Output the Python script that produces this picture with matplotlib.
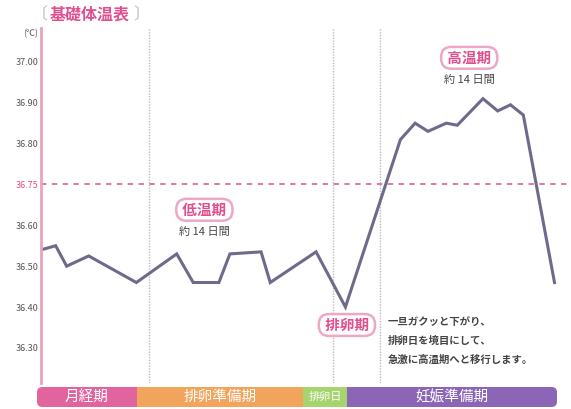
import matplotlib
matplotlib.use("Agg")
import matplotlib.pyplot as plt
from matplotlib.patches import FancyBboxPatch
import numpy as np

plt.rcParams['font.family'] = ['Noto Sans CJK JP', 'DejaVu Sans']

# ---- data ----
days = [0, 0.8, 1.4, 2.6, 5.2, 7.4, 8.3, 9.7, 10.3, 12.0, 12.5, 15.0, 16.6,
        19.6, 20.4, 21.1, 22.1, 22.7, 24.1, 24.9, 25.6, 26.3, 28.0]
temps = [36.54, 36.55, 36.50, 36.525, 36.46, 36.53, 36.46, 36.46, 36.53, 36.535,
         36.46, 36.535, 36.40, 36.81, 36.85, 36.83, 36.85, 36.845, 36.91, 36.88,
         36.895, 36.87, 36.46]
ytick_vals = [37.0, 36.9, 36.8, 36.7, 36.6, 36.5, 36.4, 36.3]
ytick_labels = ["37.00", "36.90", "36.80", "36.75", "36.60", "36.50", "36.40", "36.30"]
threshold = 36.7
phase_bounds = [5.9, 15.9, 18.5]
phases = ["月経期", "排卵準備期", "排卵日", "妊娠準備期"]
phase_lengths = [5.47, 9.08, 2.41, 11.48]
phase_colors = ["#E2649E", "#F0A45C", "#A6D46E", "#8C66B6"]

W, H = 571, 409
fig = plt.figure(figsize=(W / 100, H / 100), dpi=100)

def fx(px):
    return px / W

def fy(py):
    return 1 - py / H

ax = fig.add_axes([fx(41), fy(383), fx(571) - fx(41), fy(28) - fy(383)])
ax.set_xlim(0, 28.9)
ax.set_ylim(36.214, 37.083)
for s in ["top", "right", "bottom"]:
    ax.spines[s].set_visible(False)
ax.spines["left"].set_color("#E8A3BE")
ax.spines["left"].set_linewidth(2)
ax.set_xticks([])
ax.set_yticks(ytick_vals)
ax.set_yticklabels(ytick_labels, fontsize=6.5, color="#555555")
ax.get_yticklabels()[3].set_color("#D9508C")
ax.tick_params(axis="y", length=0, pad=2)

for b in phase_bounds:
    ax.axvline(b, color="#BBBBBB", lw=1, ls=(0, (1, 1)))
ax.axhline(threshold, color="#D8709E", lw=1.3, ls=(0, (3, 3)))

ax.plot(days, temps, color="#6E6A8C", lw=2.2, solid_joinstyle="miter")

# annotations
box = dict(boxstyle="round,pad=0.2,rounding_size=0.7", fc="white", ec="#ECA8C6", lw=1.8)
ax.text(8.91, 36.638, " 低温期 ", ha="center", va="center", fontsize=10.5,
        color="#E0508F", fontweight="bold", bbox=box)
ax.text(8.91, 36.584, "約 14 日間", ha="center", va="center", fontsize=8, color="#444444")
ax.text(23.35, 37.01, " 高温期 ", ha="center", va="center", fontsize=10.5,
        color="#E0508F", fontweight="bold", bbox=box)
ax.text(23.35, 36.956, "約 14 日間", ha="center", va="center", fontsize=8, color="#444444")
ax.text(16.68, 36.356, " 排卵期 ", ha="center", va="center", fontsize=10.5,
        color="#E0508F", fontweight="bold", bbox=box)
for i, line in enumerate(["一旦ガクッと下がり、", "排卵日を境目にして、", "急激に高温期へと移行します。"]):
    ax.text(18.92, 36.361 - i * 0.045, line, ha="left", va="center", fontsize=7.5,
            color="#444444", fontweight="bold")

# title and unit
fig.text(fx(90), fy(15), "基礎体温表", ha="center", va="center", fontsize=11.5,
         color="#E0508F", fontweight="bold")
fig.text(fx(48), fy(15), "〔", ha="right", va="center", fontsize=11.5, color="#BBBBBB")
fig.text(fx(133), fy(15), "〕", ha="left", va="center", fontsize=11.5, color="#BBBBBB")
fig.text(fx(38), fy(34), "(℃)", ha="right", va="center", fontsize=6.5, color="#555555")

# phase bar
bax = fig.add_axes([fx(37), fy(407), fx(557) - fx(37), fy(387) - fy(407)])
total = sum(phase_lengths)
bax.set_xlim(0, total)
bax.set_ylim(0, 1)
bax.axis("off")
clip = FancyBboxPatch((0, 0), total, 1, boxstyle="round,pad=0,rounding_size=0.3",
                      mutation_aspect=0.914, fc="none", ec="none", transform=bax.transData)
bax.add_patch(clip)
lefts = np.concatenate([[0], np.cumsum(phase_lengths)[:-1]])
bars = bax.barh([0.5] * len(phases), phase_lengths, left=lefts, height=1,
                color=phase_colors, edgecolor="none")
for bar in bars:
    bar.set_clip_path(clip)
sizes = [10.5, 10.5, 8, 10.5]
for name, l, w, fs in zip(phases, lefts, phase_lengths, sizes):
    bax.text(l + w / 2, 0.5, name, ha="center", va="center", color="white", fontsize=fs)

fig.savefig("out.png", dpi=100)
